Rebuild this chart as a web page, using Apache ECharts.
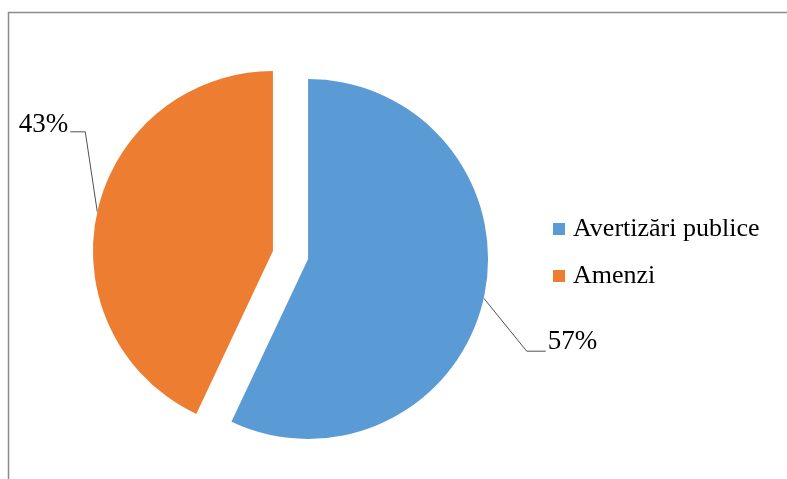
<!DOCTYPE html>
<html>
<head>
<meta charset="utf-8">
<script src="https://cdn.jsdelivr.net/npm/echarts@6/dist/echarts.min.js"></script>
<style>html,body{margin:0;padding:0;background:#fff}#c{width:787px;height:479px}</style>
</head>
<body>
<div id="c"></div>
<script>
const categories = ['Avertizări publice', 'Amenzi'];
const values = [57, 43];
const colors = ['#5B9BD5', '#ED7D31'];

// label guide shape relative to the slice edge point
const labelGuides = [
  { bend: [43, 53], end: 19, align: 'left', textDy: -9 },
  { bend: [-12, -80], end: -15, align: 'right', textDy: -7 }
];

const chart = echarts.init(document.getElementById('c'), null, { renderer: 'canvas' });
const font = 'Liberation Serif';

const pieCenter = [290.5, 255];
const pieRadius = 180;
const explode = 18;
const total = values.reduce((a, b) => a + b, 0);

function sliceCenter(i) {
  let before = 0;
  for (let j = 0; j < i; j++) before += values[j];
  const mid = (before + values[i] / 2) / total * Math.PI * 2;
  return [pieCenter[0] + explode * Math.sin(mid), pieCenter[1] - explode * Math.cos(mid)];
}

const series = categories.map((name, i) => ({
  type: 'pie',
  center: sliceCenter(i),
  radius: pieRadius,
  startAngle: 90,
  clockwise: true,
  avoidLabelOverlap: false,
  data: categories.map((n, j) => ({
    name: n,
    value: values[j],
    itemStyle: { color: j === i ? colors[j] : 'rgba(0,0,0,0)' },
    label: { show: j === i },
    labelLine: { show: j === i }
  })),
  label: {
    position: 'outside',
    formatter: p => Math.round(p.percent) + '%',
    fontFamily: font,
    fontSize: 27,
    color: '#000'
  },
  labelLine: { lineStyle: { color: '#505050', width: 1 } },
  emphasis: { disabled: true },
  silent: true,
  labelLayout: function (params) {
    if (params.dataIndex !== i) return {};
    const g = labelGuides[i];
    const p0 = params.labelLinePoints[0];
    const bend = [p0[0] + g.bend[0], p0[1] + g.bend[1]];
    const end = [bend[0] + g.end, bend[1]];
    const gap = g.align === 'left' ? 2 : -2;
    return {
      x: end[0] + gap,
      y: end[1] + g.textDy,
      align: g.align,
      verticalAlign: 'middle',
      labelLinePoints: [p0, bend, end]
    };
  }
}));

chart.setOption({
  animation: false,
  graphic: [{
    type: 'rect',
    shape: { x: 8.5, y: 12.5, width: 900, height: 600 },
    style: { fill: 'none', stroke: '#8a8a8a', lineWidth: 1.5 },
    silent: true
  }],
  legend: {
    orient: 'vertical',
    left: 548,
    top: 211,
    itemWidth: 12,
    itemHeight: 12,
    itemGap: 21,
    icon: 'rect',
    selectedMode: false,
    data: categories.map((n, i) => ({ name: n, itemStyle: { color: colors[i] } })),
    textStyle: { fontFamily: font, fontSize: 26, color: '#000', padding: [0, 0, 0, 3] }
  },
  series: series
});
</script>
</body>
</html>
